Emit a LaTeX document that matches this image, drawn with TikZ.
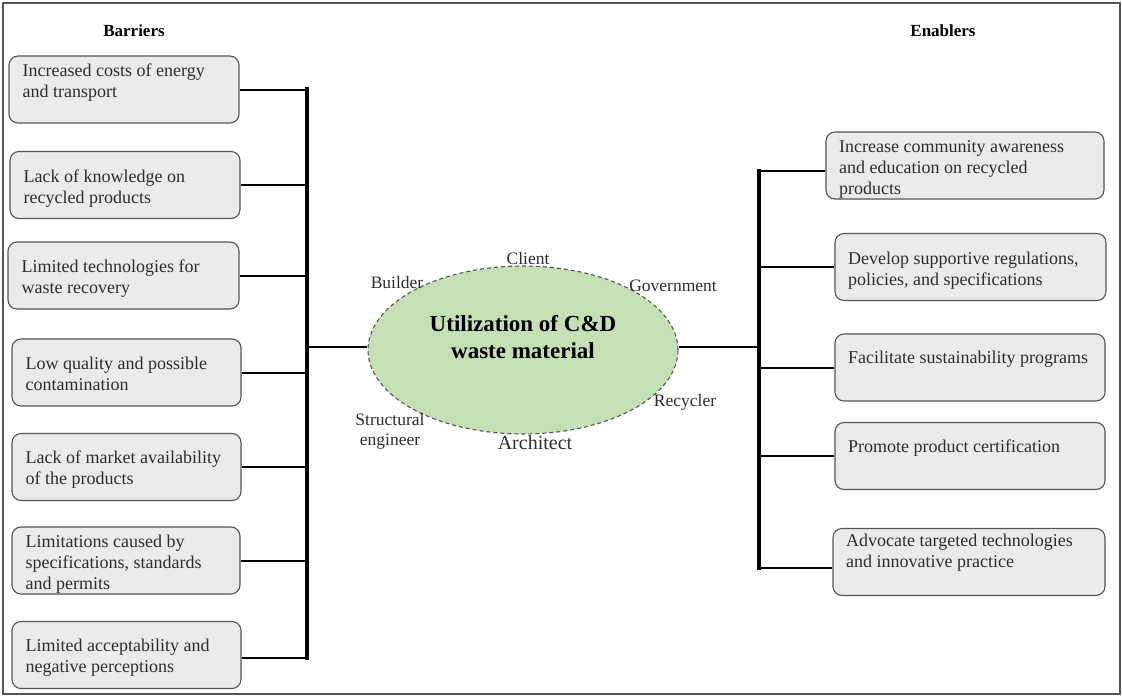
\documentclass[tikz,border=0pt]{standalone}
\usepackage{fontspec}
\setmainfont{Liberation Serif}
\usetikzlibrary{shapes.geometric}
\definecolor{boxfill}{RGB}{235,235,235}
\definecolor{boxline}{RGB}{85,85,85}
\definecolor{hubfill}{RGB}{197,224,180}
\definecolor{ink}{RGB}{45,45,45}
\begin{document}
\begin{tikzpicture}[x=1pt,y=-1pt,
  itembox/.style={draw=boxline, fill=boxfill, line width=1.1pt, rounded corners=9pt,
    inner sep=0pt, minimum height=67pt},
  itemtext/.style={anchor=north west, inner sep=0pt, align=left, text=ink,
    font=\fontsize{18}{21}\selectfont},
  heading/.style={font=\bfseries\fontsize{17}{20}\selectfont, text=black, inner sep=0pt},
  actor/.style={font=\fontsize{17.5}{20}\selectfont, text=ink, inner sep=0pt, align=center},
  link/.style={line width=2pt, black},
  trunk/.style={line width=3.6pt, black, line cap=rect}]
\useasboundingbox (0,0) rectangle (1122,696);

% outer frame
\draw[boxline, line width=1.8pt] (3,3) rectangle (1120,694);

% column headings
\node[heading] (hbar) at (134,31) {Barriers};
\node[heading] (hena) at (943,31) {Enablers};

% barrier boxes
\node[itembox, minimum width=230pt] (L1) at (124,89.5) {};
\node[itembox, minimum width=230pt] (L2) at (125,185) {};
\node[itembox, minimum width=231pt] (L3) at (123.5,275.5) {};
\node[itembox, minimum width=229pt] (L4) at (126.5,372.5) {};
\node[itembox, minimum width=229pt] (L5) at (126.5,467) {};
\node[itembox, minimum width=228pt] (L6) at (126,560.5) {};
\node[itembox, minimum width=229pt] (L7) at (126.5,655) {};

\node[itemtext] (Lt1) at (22.5,63.7) {Increased costs of energy\\and transport};
\node[itemtext] (Lt2) at (23.5,169.7) {Lack of knowledge on\\recycled products};
\node[itemtext] (Lt3) at (21.5,259.7) {Limited technologies for\\waste recovery};
\node[itemtext] (Lt4) at (25.5,356.7) {Low quality and possible\\contamination};
\node[itemtext] (Lt5) at (25.5,450.7) {Lack of market availability\\of the products};
\node[itemtext] (Lt6) at (25.5,534.7) {Limitations caused by\\specifications, standards\\and permits};
\node[itemtext] (Lt7) at (25.5,638.7) {Limited acceptability and\\negative perceptions};

% enabler boxes
\node[itembox, minimum width=278pt] (R1) at (965,165.5) {};
\node[itembox, minimum width=271pt] (R2) at (970.5,267) {};
\node[itembox, minimum width=270pt] (R3) at (970,367.5) {};
\node[itembox, minimum width=270pt] (R4) at (970,456) {};
\node[itembox, minimum width=272pt] (R5) at (969,562) {};

\node[itemtext] (Rt1) at (839,140.7) {Increase community awareness\\and education on recycled\\products};
\node[itemtext] (Rt2) at (848,251.7) {Develop supportive regulations,\\policies, and specifications};
\node[itemtext] (Rt3) at (848,350.7) {Facilitate sustainability programs};
\node[itemtext] (Rt4) at (848,439.7) {Promote product certification};
\node[itemtext] (Rt5) at (846,533.7) {Advocate targeted technologies\\and innovative practice};

% trunk lines
\coordinate (ltop) at (307,89);
\coordinate (lbot) at (307,658);
\coordinate (rtop) at (759,171);
\coordinate (rbot) at (759,568);

% central hub
\node[ellipse, draw=boxline, fill=hubfill, line width=1.1pt, dash pattern=on 4pt off 3pt,
  minimum width=310pt, minimum height=168pt, inner sep=0pt] (hub) at (523,350) {};

% branches
\foreach \b in {L1,L2,L3,L4,L5,L6}
  \draw[link] (\b.east) -- (\b.east -| ltop);
\draw[link] ([yshift=-3pt]L7.east) -- ([yshift=-3pt]L7.east -| ltop);
\draw[link] ([yshift=-5.5pt]R1.west) -- ([yshift=-5.5pt]R1.west -| rtop);
\foreach \b in {R2,R3,R4}
  \draw[link] (\b.west) -- (\b.west -| rtop);
\draw[link] ([yshift=-6pt]R5.west) -- ([yshift=-6pt]R5.west -| rtop);
\draw[link] ([yshift=3pt]hub.west) -- ([yshift=3pt]hub.west -| ltop);
\draw[link] ([yshift=3pt]hub.east) -- ([yshift=3pt]hub.east -| rtop);
\draw[trunk] (ltop) -- (lbot);
\draw[trunk] (rtop) -- (rbot);

% hub title
\node[font=\bfseries\fontsize{23}{27}\selectfont, align=center, inner sep=0pt, text=black]
  (title) at (523,337.5) {Utilization of C\&D\\waste material};

% stakeholders around the hub
\node[actor] (client) at (528,259) {Client};
\node[actor] (builder) at (397,283) {Builder};
\node[actor] (govt) at (673,286) {Government};
\node[actor] (recycler) at (685,402) {Recycler};
\node[actor] (struct) at (390,431) {Structural\\engineer};
\node[actor, font=\fontsize{20}{24}\selectfont] (arch) at (535,443) {Architect};
\end{tikzpicture}
\end{document}
